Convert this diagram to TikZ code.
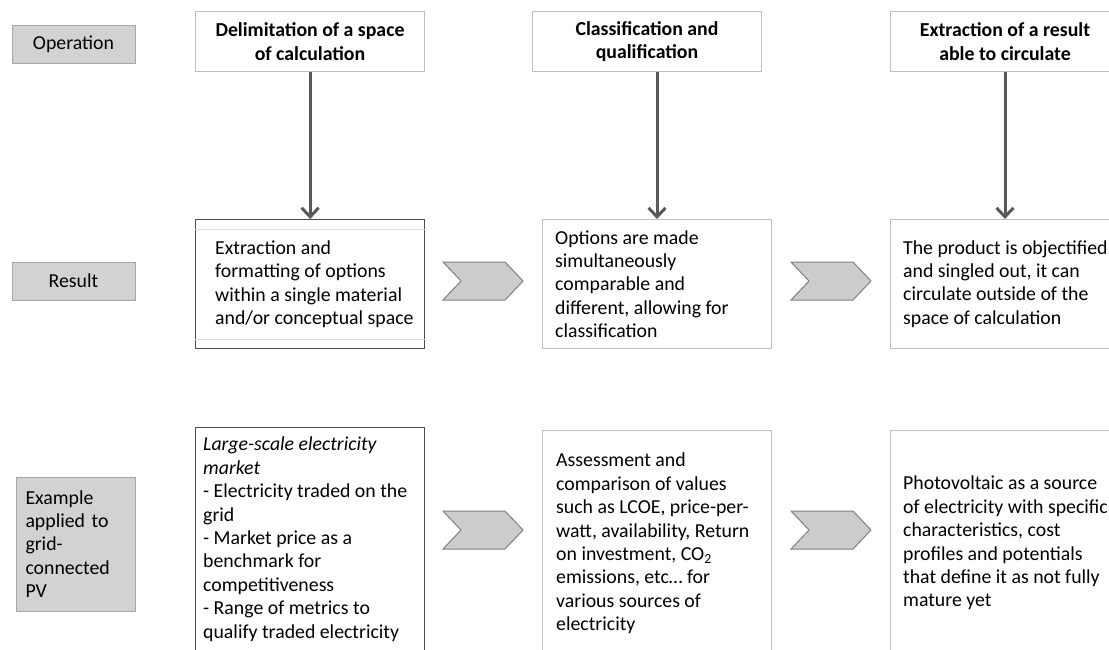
\documentclass[tikz,border=0pt]{standalone}
\usepackage{fontspec}
\setmainfont{Carlito}
\usepackage{tikz}
\usetikzlibrary{arrows.meta}

\newcommand{\bodyfont}{\fontsize{19.8}{23.4}\selectfont}

\tikzset{
	lbl/.style={draw=gray!70, fill=gray!35, line width=1pt, font=\bodyfont, minimum width=123pt, minimum height=38pt, inner sep=0pt},
	head/.style={draw=gray!50, fill=white, line width=1pt, font=\bodyfont\bfseries, align=center, minimum width=229pt, minimum height=60pt, anchor=north west, inner sep=0pt},
	box/.style={draw=gray!50, line width=1pt, minimum width=229pt, anchor=north west, inner sep=0pt},
	darkbox/.style={box, draw=black!70, line width=1.3pt},
	txt/.style={font=\bodyfont, align=left, inner sep=0pt},
	arr/.style={draw=black!65, line width=3pt, -{Straight Barb[length=9pt,width=17pt]}},
	chev/.style={draw=gray, fill=gray!40, line width=1pt}
}

\begin{document}
\begin{tikzpicture}[x=1pt, y=-1pt]
	\useasboundingbox (0,0) rectangle (1109,649);
	\clip (0,0) rectangle (1109,649);

	% row labels
	\node[lbl] (op) at (73.5,44) {Operation};
	\node[lbl] (res) at (73.5,281) {Result};
	\node[lbl, minimum width=119pt, minimum height=134pt, text width=100pt, align=left] (ex) at (75.5,544) {Example\\applied to\\grid-\\connected\\PV};

	% operations
	\node[head] (h1) at (195,11) {Delimitation of a space\\of calculation};
	\node[head] (h2) at (532,11) {Classification and\\qualification};
	\node[head] (h3) at (890,11) {Extraction of a result\\able to circulate};

	% results
	\node[darkbox, minimum height=129pt] (r1) at (195,219) {};
	\node[box, minimum height=129pt] (r2) at (542,219) {};
	\node[box, minimum height=129pt] (r3) at (890,219) {};
	\draw[gray!25, line width=1pt] ([yshift=-10pt]r1.north west) -- ([yshift=-10pt]r1.north east);
	\draw[gray!25, line width=1pt] ([yshift=10pt]r1.south west) -- ([yshift=10pt]r1.south east);

	\node[txt, anchor=west] (r1t) at ([xshift=20pt]r1.west) {Extraction and\\formatting of options\\within a single material\\and/or conceptual space};
	\node[txt, anchor=west] (r2t) at ([xshift=13pt]r2.west) {Options are made\\simultaneously\\comparable and\\different, allowing for\\classification};
	\node[txt, anchor=west] (r3t) at ([xshift=13pt]r3.west) {The product is objectified\\and singled out, it can\\circulate outside of the\\space of calculation};

	% examples
	\node[darkbox, minimum height=260pt] (e1) at (195,427) {};
	\node[box, minimum height=260pt] (e2) at (542,430) {};
	\node[box, minimum height=260pt] (e3) at (890,430) {};

	\node[txt, anchor=north west] (e1t) at ([shift={(8pt,-10pt)}]e1.north west) {\textit{Large-scale electricity}\\\textit{market}\\- Electricity traded on the\\grid\\- Market price as a\\benchmark  for\\competitiveness\\- Range of metrics to\\qualify traded electricity};
	\node[txt, anchor=north west] (e2t) at ([shift={(14pt,-23pt)}]e2.north west) {Assessment and\\comparison of values\\such as LCOE, price-per-\\watt, availability, Return\\on investment, CO\textsubscript{2}\\emissions, etc… for\\various sources of\\electricity};
	\node[txt, anchor=north west] (e3t) at ([shift={(13pt,-46pt)}]e3.north west) {Photovoltaic as a source\\of electricity with specific\\characteristics, cost\\profiles and potentials\\that define it as not fully\\mature yet};

	% arrows and chevrons
	\foreach \c in {1,2,3}
		\draw[arr] (r\c.north |- h\c.south) -- (r\c.north);

	\foreach \cx/\cy in {443/281, 791/281, 443/530, 791/530}
		\draw[chev] (\cx,\cy-19) -- (\cx+62,\cy-19) -- (\cx+80,\cy) -- (\cx+62,\cy+19) -- (\cx,\cy+19) -- (\cx+18,\cy) -- cycle;
\end{tikzpicture}
\end{document}
